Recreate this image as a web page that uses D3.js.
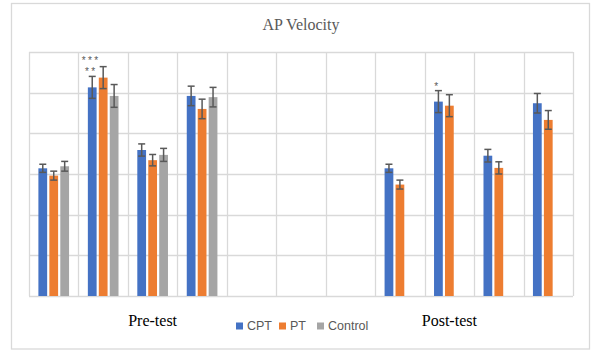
<!DOCTYPE html>
<html>
<head>
<meta charset="utf-8">
<script src="https://cdn.jsdelivr.net/npm/d3@7"></script>
<style>
  body { margin: 0; background: #fff; }
  svg { display: block; }
</style>
</head>
<body>
<div id="chart"></div>
<script>
// categories (unlabelled slots on the x axis, 3 empty between pre and post)
const categories = ["pre1", "pre2", "pre3", "pre4", "gap1", "gap2", "gap3", "post1", "post2", "post3", "post4"];
const seriesNames = ["CPT", "PT", "Control"];
const colors = ["#4472C4", "#ED7D31", "#A5A5A5"];

// series means and error bars
const cptValues = [3.14, 5.13, 3.59, 4.92, null, null, null, 3.14, 4.78, 3.45, 4.74];
const cptErrors = [0.10, 0.27, 0.15, 0.24, null, null, null, 0.10, 0.27, 0.155, 0.24];
const ptValues = [2.96, 5.37, 3.34, 4.60, null, null, null, 2.74, 4.68, 3.15, 4.33];
const ptErrors = [0.11, 0.27, 0.14, 0.24, null, null, null, 0.11, 0.27, 0.15, 0.23];
const controlValues = [3.19, 4.92, 3.47, 4.89, null, null, null, null, null, null, null];
const controlErrors = [0.12, 0.28, 0.16, 0.24, null, null, null, null, null, null, null];

const yTicks = [0, 1, 2, 3, 4, 5, 6];

// group labels under the axis, placed at a category slot
const groupLabels = [
    { text: "Pre-test", at: "pre3" },
    { text: "Post-test", at: "post2" }
];

// significance stars above the CPT bar
const stars = [
    { cat: "pre2", lines: ["***", "**"] },
    { cat: "post2", lines: ["*"] }
];

const width = 593;
const height = 351;
const margin = { top: 52, right: 20, bottom: 55, left: 29 };

const svg = d3.select("#chart")
    .append("svg")
    .attr("width", width)
    .attr("height", height);

// outer chart border
svg.append("rect")
    .attr("x", 11.5)
    .attr("y", 3.5)
    .attr("width", 578)
    .attr("height", 345.5)
    .attr("fill", "#fff")
    .attr("stroke", "#d9d9d9")
    .attr("stroke-width", 1.3);

// title
svg.append("text")
    .attr("x", 301)
    .attr("y", 30)
    .attr("text-anchor", "middle")
    .style("font-family", "'Liberation Serif', 'Times New Roman', serif")
    .style("font-size", "16px")
    .style("fill", "#595959")
    .text("AP Velocity");

const x0 = d3.scaleBand()
    .domain(categories)
    .range([margin.left, width - margin.right]);

const bw = x0.bandwidth();
const x1 = d3.scaleBand()
    .domain(seriesNames)
    .range([0.19 * bw, 0.81 * bw])
    .paddingInner(0.2);

const y = d3.scaleLinear()
    .domain([0, 6])
    .range([height - margin.bottom, margin.top]);

// gridlines
const grid = svg.append("g")
    .attr("stroke", "#d9d9d9")
    .attr("stroke-width", 1.3);

grid.selectAll("line.h")
    .data(yTicks)
    .join("line")
    .attr("class", "h")
    .attr("x1", x0.range()[0])
    .attr("x2", x0.range()[1])
    .attr("y1", d => Math.round(y(d)) + 0.5)
    .attr("y2", d => Math.round(y(d)) + 0.5);

const bounds = categories.map(c => x0(c)).concat([x0.range()[1]]);
grid.selectAll("line.v")
    .data(bounds)
    .join("line")
    .attr("class", "v")
    .attr("x1", d => Math.round(d) + 0.5)
    .attr("x2", d => Math.round(d) + 0.5)
    .attr("y1", y(6))
    .attr("y2", y(0));

// build rows for bars
const allValues = [cptValues, ptValues, controlValues];
const allErrors = [cptErrors, ptErrors, controlErrors];
const rows = [];
categories.forEach((c, i) => {
    seriesNames.forEach((s, k) => {
        if (allValues[k][i] != null) {
            rows.push({ cat: c, series: s, k: k, value: allValues[k][i], err: allErrors[k][i] });
        }
    });
});

svg.append("g")
    .selectAll("rect")
    .data(rows)
    .join("rect")
    .attr("x", d => x0(d.cat) + x1(d.series))
    .attr("y", d => y(d.value))
    .attr("width", x1.bandwidth())
    .attr("height", d => y(0) - y(d.value))
    .attr("fill", d => colors[d.k]);

// error bars
const capW = 7;
const eb = svg.append("g")
    .attr("stroke", "#595959")
    .attr("stroke-width", 1.5)
    .selectAll("g")
    .data(rows)
    .join("g")
    .attr("transform", d => `translate(${x0(d.cat) + x1(d.series) + x1.bandwidth() / 2},0)`);

eb.append("line")
    .attr("y1", d => y(d.value + d.err))
    .attr("y2", d => y(d.value - d.err));
eb.append("line")
    .attr("x1", -capW / 2).attr("x2", capW / 2)
    .attr("y1", d => y(d.value + d.err))
    .attr("y2", d => y(d.value + d.err));
eb.append("line")
    .attr("x1", -capW / 2).attr("x2", capW / 2)
    .attr("y1", d => y(d.value - d.err))
    .attr("y2", d => y(d.value - d.err));

// significance stars, stacked above the CPT error bar
const starGap = 11.6;
stars.forEach(s => {
    const i = categories.indexOf(s.cat);
    const top = y(cptValues[i] + cptErrors[i]);
    const cx = x0(s.cat) + x1("CPT") + x1.bandwidth() / 2 - 1;
    s.lines.slice().reverse().forEach((line, j) => {
        svg.append("text")
            .attr("x", cx)
            .attr("y", top - 1 - j * starGap)
            .attr("text-anchor", "middle")
            .style("font-family", "'Liberation Sans', Arial, sans-serif")
            .style("font-size", "10px")
            .style("letter-spacing", "2.4px")
            .style("fill", "#595959")
            .text(line);
    });
});

// group labels
svg.append("g")
    .selectAll("text")
    .data(groupLabels)
    .join("text")
    .attr("x", d => x0(d.at) + bw / 2)
    .attr("y", 326)
    .attr("text-anchor", "middle")
    .style("font-family", "'Liberation Serif', 'Times New Roman', serif")
    .style("font-size", "16px")
    .style("fill", "#000")
    .text(d => d.text);

// legend
const legendX = [236, 279, 317];
const legend = svg.append("g")
    .selectAll("g")
    .data(seriesNames)
    .join("g")
    .attr("transform", (d, i) => `translate(${legendX[i]},322.5)`);

legend.append("rect")
    .attr("width", 7)
    .attr("height", 7)
    .attr("fill", (d, i) => colors[i]);

legend.append("text")
    .attr("x", 11)
    .attr("y", 7.5)
    .style("font-family", "'Liberation Sans', Arial, sans-serif")
    .style("font-size", "12.5px")
    .style("fill", "#595959")
    .text(d => d);
</script>
</body>
</html>
